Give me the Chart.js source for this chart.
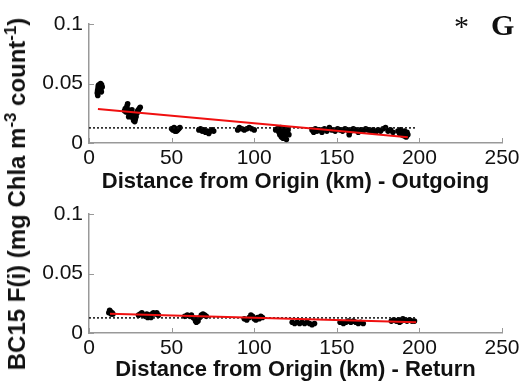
<!DOCTYPE html>
<html>
<head>
<meta charset="utf-8">
<script src="https://cdn.jsdelivr.net/npm/chart.js@4"></script>
<style>
  body { margin: 0; background: #fff; width: 524px; height: 383px; overflow: hidden; position: relative; font-family: "Liberation Sans", Arial, sans-serif; }
  canvas { position: absolute; left: 0; }
  #c1 { top: 0; }
  #c2 { top: 190px; }
  #ylab { position: absolute; left: 17px; top: 194px; transform: translate(-50%, -50%) rotate(-90deg); white-space: nowrap; font-weight: bold; font-size: 24px; color: #111; }
  #ylab sup { font-size: 0.7em; line-height: 0; }
  #star { position: absolute; left: 454px; top: 9px; font-family: "Liberation Serif", serif; font-size: 30px; color: #111; }
  #panel { position: absolute; left: 491px; top: 8px; font-family: "Liberation Serif", serif; font-weight: bold; font-size: 30px; color: #111; }
</style>
</head>
<body>
<canvas id="c1" width="524" height="195"></canvas>
<canvas id="c2" width="524" height="193"></canvas>
<div id="ylab">BC15 F(i) (mg Chla m<sup>-3</sup> count<sup>-1</sup>)</div>
<div id="star">*</div>
<div id="panel">G</div>
<script>
// outgoing leg
const outX = [5.0, 5.2, 5.5, 5.6, 6.0, 6.2, 6.5, 6.8, 7.0, 7.2, 7.5, 7.6, 8.0, 5.3,
  21.5, 22, 22.5, 23, 23.4, 23.8, 24.2, 24.6, 25, 25.5, 25.8, 26.2, 26.6, 27, 27.3, 27.7, 28, 28.5, 29, 29.5, 30, 30.5, 31, 24, 26,
  50, 50.8, 51.5, 52.2, 53, 53.6, 54.3, 55, 52,
  66.5, 67.5, 68.5, 69.5, 70.5, 71.5, 72.5, 73.5, 74.5, 75.5,
  90, 91, 92.5, 94, 95.5, 97, 98.5, 100,
  113, 114, 115, 115.5, 116, 116.5, 117, 117.5, 118, 118.5, 119, 119.5, 120, 120.5, 121,
  135, 136, 137, 138, 139.5, 141, 142.5, 144, 145.5, 147, 149, 150.5, 152, 153.5, 155, 156.5, 157.5, 158.5, 160, 161.5,
  163, 164.5, 166, 167.5, 169, 170.5, 172, 173.5, 175, 176.5, 178, 179.5, 181, 182.5, 184,
  187, 188, 188.5, 189.5, 190, 190.5, 191, 191.5, 192, 192.5, 193];
const outY = [0.042, 0.044, 0.046, 0.048, 0.049, 0.047, 0.045, 0.048, 0.050, 0.046, 0.043, 0.049, 0.047, 0.040,
  0.027, 0.029, 0.026, 0.031, 0.033, 0.028, 0.025, 0.027, 0.024, 0.026, 0.022, 0.025, 0.021, 0.019, 0.023, 0.018, 0.020, 0.022, 0.025, 0.027, 0.028, 0.029, 0.030, 0.022, 0.028,
  0.012, 0.011, 0.013, 0.012, 0.010, 0.011, 0.012, 0.013, 0.010,
  0.011, 0.012, 0.010, 0.011, 0.009, 0.010, 0.008, 0.010, 0.011, 0.010,
  0.011, 0.013, 0.012, 0.011, 0.012, 0.013, 0.012, 0.011,
  0.011, 0.012, 0.009, 0.007, 0.013, 0.005, 0.010, 0.004, 0.008, 0.012, 0.006, 0.003, 0.009, 0.011, 0.007,
  0.011, 0.009, 0.012, 0.010, 0.011, 0.009, 0.012, 0.010, 0.013, 0.011, 0.010, 0.012, 0.011, 0.010, 0.012, 0.011, 0.007, 0.010, 0.012, 0.011,
  0.009, 0.011, 0.010, 0.012, 0.011, 0.010, 0.011, 0.009, 0.011, 0.010, 0.012, 0.013, 0.010, 0.011, 0.009,
  0.010, 0.008, 0.011, 0.007, 0.009, 0.006, 0.010, 0.008, 0.005, 0.009, 0.007];
const outFitX = [5.4, 193];
const outFitY = [0.0286, 0.0048];

// return leg
const retX = [12, 12.5, 13, 13.5, 14, 14.5,
  30, 31, 32, 33, 34, 35, 36, 37, 38, 39, 40, 41, 42, 35.5, 37.5,
  58, 59.5, 61, 62, 63, 64, 64.5, 65, 65.5, 66, 67, 68, 69, 70, 71,
  94, 95.5, 97, 98, 99, 100, 101, 102, 103, 104, 105,
  123, 124.5, 126, 127.5, 129, 130.5, 132, 133.5, 135, 136.5,
  152, 154, 155.5, 157, 158.5, 160, 161.5, 163, 164.5, 166,
  183, 184.5, 186, 187.5, 189, 190, 191, 192.5, 194, 195.5, 197, 188];
const retY = [0.017, 0.019, 0.018, 0.016, 0.017, 0.016,
  0.015, 0.016, 0.017, 0.015, 0.014, 0.016, 0.015, 0.014, 0.016, 0.017, 0.016, 0.017, 0.015, 0.013, 0.013,
  0.014, 0.015, 0.014, 0.015, 0.013, 0.012, 0.010, 0.009, 0.011, 0.010, 0.013, 0.015, 0.016, 0.015, 0.014,
  0.012, 0.011, 0.013, 0.015, 0.014, 0.012, 0.011, 0.013, 0.012, 0.014, 0.013,
  0.009, 0.008, 0.009, 0.008, 0.009, 0.008, 0.009, 0.008, 0.007, 0.008,
  0.009, 0.008, 0.009, 0.010, 0.009, 0.010, 0.009, 0.008, 0.009, 0.008,
  0.010, 0.011, 0.010, 0.011, 0.010, 0.012, 0.011, 0.010, 0.011, 0.010, 0.010, 0.009];
const retFitX = [12.7, 198];
const retFitY = [0.0162, 0.009];

const meanX = [0, 198];
const meanY = [0.0127, 0.0127];

const xTicks = [0, 50, 100, 150, 200, 250];
const yTicks = [0, 0.05, 0.1];

const pts = (xs, ys) => xs.map((x, i) => ({ x: x, y: ys[i] }));

// inward tick marks like the original figure
const inTicks = {
  id: 'inTicks',
  afterDraw(chart) {
    const { ctx, chartArea, scales } = chart;
    ctx.save();
    ctx.strokeStyle = '#999';
    ctx.lineWidth = 1;
    xTicks.forEach(v => {
      const px = Math.round(scales.x.getPixelForValue(v)) + 0.5;
      ctx.beginPath(); ctx.moveTo(px, chartArea.bottom); ctx.lineTo(px, chartArea.bottom - 5); ctx.stroke();
    });
    yTicks.forEach(v => {
      const py = Math.round(scales.y.getPixelForValue(v)) + 0.5;
      ctx.beginPath(); ctx.moveTo(chartArea.left, py); ctx.lineTo(chartArea.left + 5, py); ctx.stroke();
    });
    ctx.restore();
  }
};

function makePanel(id, xs, ys, fx, fy, title, axisH) {
  return new Chart(document.getElementById(id), {
    type: 'scatter',
    data: {
      datasets: [
        { data: pts(fx, fy), showLine: true, borderColor: '#f01010', borderWidth: 2, pointRadius: 0 },
        { data: pts(meanX, meanY), showLine: true, borderColor: '#111', borderWidth: 1.5, borderDash: [2, 2], pointRadius: 0 },
        { data: pts(xs, ys), backgroundColor: '#000', borderColor: '#000', pointRadius: 2.8, borderWidth: 0 }
      ]
    },
    options: {
      responsive: false,
      animation: false,
      devicePixelRatio: 1,
      layout: { padding: { top: 24, right: 22, left: 0, bottom: 0 } },
      plugins: { legend: { display: false }, tooltip: { enabled: false } },
      scales: {
        x: {
          min: 0, max: 250,
          afterBuildTicks: s => { s.ticks = xTicks.map(v => ({ value: v })); },
          afterFit: s => { s.height = axisH; },
          grid: { display: false, drawTicks: false },
          border: { color: '#999', width: 1.5 },
          ticks: { padding: 3, color: '#111', font: { family: 'Liberation Sans', size: 21 } },
          title: { display: true, text: title, color: '#111', padding: { top: 0, bottom: 0 },
                   font: { family: 'Liberation Sans', size: 22, weight: 'bold' } }
        },
        y: {
          min: 0, max: 0.1,
          afterBuildTicks: s => { s.ticks = yTicks.map(v => ({ value: v })); },
          afterFit: s => { s.width = 89; },
          grid: { display: false, drawTicks: false },
          border: { color: '#999', width: 1.5 },
          ticks: { padding: 6, color: '#111', font: { family: 'Liberation Sans', size: 21 },
                   callback: v => String(v) }
        }
      }
    },
    plugins: [inTicks]
  });
}

makePanel('c1', outX, outY, outFitX, outFitY, 'Distance from Origin (km) - Outgoing', 52);
makePanel('c2', retX, retY, retFitX, retFitY, 'Distance from Origin (km) - Return', 50);
</script>
</body>
</html>
